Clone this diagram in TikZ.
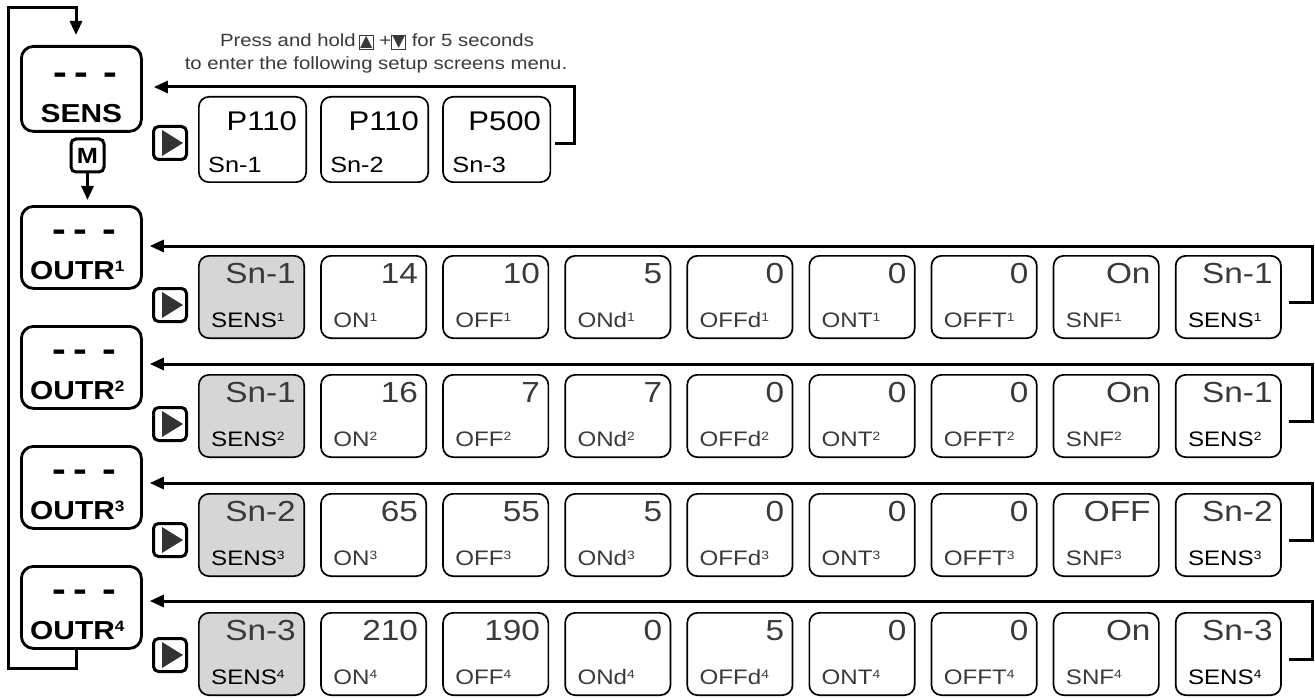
\documentclass[tikz,border=0pt]{standalone}
\usepackage{fontspec}
\setmainfont{Liberation Sans}[FakeStretch=1.15]
\newfontfamily\symfont{DejaVu Sans}
\usetikzlibrary{arrows.meta}
\definecolor{txtgray}{HTML}{3A3A3A}
\definecolor{boxgray}{HTML}{D6D6D6}
\definecolor{tricol}{HTML}{333333}
\newcommand\supr[1]{\raisebox{6pt}{\fontsize{12}{12}\selectfont #1}}
\newcommand\supo[1]{\raisebox{8.5pt}{\fontsize{15}{15}\selectfont\bfseries #1}}
\newcommand\keysym[1]{{\setlength\fboxsep{0.3pt}\setlength\fboxrule{1pt}\fbox{\fontsize{16}{16}\symfont #1}}}
\tikzset{
  conn/.style={line width=3pt},
  arr/.style={conn,-{Triangle[length=14pt,width=12pt]}},
  mainbox/.style={draw,line width=2.8pt,rounded corners=12pt,minimum width=120pt,minimum height=82pt,anchor=north west,inner sep=0pt},
  wbox/.style={draw,line width=1.7pt,rounded corners=10pt,minimum width=105.3pt,minimum height=82.3pt,anchor=north west,inner sep=0pt},
  gbox/.style={wbox,fill=boxgray},
  topbox/.style={wbox,minimum width=107.3pt,minimum height=85.3pt},
  playkey/.style={draw,line width=3pt,rounded corners=5pt,minimum width=33pt,minimum height=33pt,inner sep=0pt},
  mkey/.style={draw,line width=3pt,rounded corners=5pt,minimum width=33pt,minimum height=33pt,inner sep=0pt,font=\fontsize{22}{22}\selectfont\bfseries},
  dashes/.style={font=\fontsize{36}{36}\selectfont\bfseries,inner sep=0pt,anchor=base},
  mainlbl/.style={font=\fontsize{26}{26}\selectfont\bfseries,inner sep=0pt,anchor=base west},
  val/.style={font=\fontsize{29}{29}\selectfont,text=txtgray,inner sep=0pt,anchor=base east},
  lbl/.style={font=\fontsize{21}{21}\selectfont,text=txtgray,inner sep=0pt,anchor=base west},
  notetxt/.style={font=\fontsize{17.7}{23}\selectfont,text=txtgray,inner sep=0pt,anchor=base},
  tri/.style={fill=tricol},
}
\newcommand\rowboxes[3]{%
  \foreach \st/\v/\l/\lc [count=\i from 0] in {#3} {
    \node[\st] (b#1-\i) at ({198+122.1*\i},#2) {};
    \node[val] (v#1-\i) at ([xshift=-9pt,yshift=-28pt]b#1-\i.north east) {\v};
    \node[lbl,text=\lc] (l#1-\i) at ([xshift=13pt,yshift=12pt]b#1-\i.south west) {\l\supr{#1}};
  }}
\begin{document}
\begin{tikzpicture}[x=1pt,y=-1pt]
\useasboundingbox (0,0) rectangle (1315,698);
% main column
\node[mainbox,minimum height=85pt] (s) at (20,45) {};
\node[dashes] (sd) at ([xshift=4pt,yshift=-40pt]s.north) {-\hspace{7pt}-\hspace{15pt}-};
\node[font=\fontsize{26}{26}\selectfont\bfseries,inner sep=0pt,anchor=base] (sl) at ([yshift=10pt]s.south) {SENS};
\foreach \k/\y in {1/205,2/325,3/445,4/565} {
  \node[mainbox] (o\k) at (20,\y) {};
  \node[dashes] (od\k) at ([xshift=3pt,yshift=-36pt]o\k.north) {-\hspace{7pt}-\hspace{15pt}-};
  \node[mainlbl] (ol\k) at ([xshift=10pt,yshift=10pt]o\k.south west) {OUTR\supo{\k}};
}
\node[mkey] (m) at (87.5,155.5) {M};
% play keys
\foreach \k/\y in {0/143,1/305,2/424,3/540,4/655} {
  \node[playkey] (p\k) at (170,\y) {};
  \fill[tri] ([xshift=-8pt,yshift=13pt]p\k.center) -- ([xshift=-8pt,yshift=-13pt]p\k.center) -- ([xshift=13pt]p\k.center) -- cycle;
}
% note
\node[notetxt] (note1) at (377,47) {Press and hold\,\keysym{▲} +\keysym{▼} for 5 seconds};
\node[notetxt] (note2) at (376,70) {to enter the following setup screens menu.};
% top row
\foreach \v/\l [count=\i from 0] in {P110/Sn-1, P110/Sn-2, P500/Sn-3} {
  \node[topbox] (t\i) at ({198+122.1*\i},96) {};
  \node[val,text=black,font=\fontsize{27}{27}\selectfont] (tv\i) at ([xshift=-10pt,yshift=-35pt]t\i.north east) {\v};
  \node[lbl,text=black,font=\fontsize{22}{22}\selectfont] (tl\i) at ([xshift=10pt,yshift=11pt]t\i.south west) {\l};
}
% rows
\rowboxes{1}{255}{gbox/Sn-1/SENS/black, wbox/14/ON/txtgray, wbox/10/OFF/txtgray, wbox/5/ONd/txtgray, wbox/0/OFFd/txtgray, wbox/0/ONT/txtgray, wbox/0/OFFT/txtgray, wbox/On/SNF/txtgray, wbox/Sn-1/SENS/black}
\rowboxes{2}{374}{gbox/Sn-1/SENS/black, wbox/16/ON/txtgray, wbox/7/OFF/txtgray, wbox/7/ONd/txtgray, wbox/0/OFFd/txtgray, wbox/0/ONT/txtgray, wbox/0/OFFT/txtgray, wbox/On/SNF/txtgray, wbox/Sn-1/SENS/black}
\rowboxes{3}{493}{gbox/Sn-2/SENS/black, wbox/65/ON/txtgray, wbox/55/OFF/txtgray, wbox/5/ONd/txtgray, wbox/0/OFFd/txtgray, wbox/0/ONT/txtgray, wbox/0/OFFT/txtgray, wbox/OFF/SNF/txtgray, wbox/Sn-2/SENS/black}
\rowboxes{4}{612}{gbox/Sn-3/SENS/black, wbox/210/ON/txtgray, wbox/190/OFF/txtgray, wbox/0/ONd/txtgray, wbox/5/OFFd/txtgray, wbox/0/ONT/txtgray, wbox/0/OFFT/txtgray, wbox/On/SNF/txtgray, wbox/Sn-3/SENS/black}
% connectors
\coordinate (lx) at (76,0);
\coordinate (lb) at (8,668);
\coordinate (lt) at (8,8);
\draw[arr,shorten >=10pt] (o4.south -| lx) |- (lb) -- (lt) -| (s.north -| lx);
\draw[arr,shorten >=5pt] (m.south) -- (m.south |- o1.north);
\coordinate (r0) at (574,87);
\draw[arr,shorten <=4pt,shorten >=11pt] ([yshift=-4pt]t2.east) -| (r0) -- (s.east |- r0);
\foreach \k/\ay in {1/246,2/364,3/483,4/601} {
  \coordinate (rr\k) at (1312,\ay);
  \draw[arr,shorten <=7pt,shorten >=7pt] ([yshift=-5pt]b\k-8.east) -| (rr\k) -- (o\k.east |- rr\k);
}
\end{tikzpicture}
\end{document}
